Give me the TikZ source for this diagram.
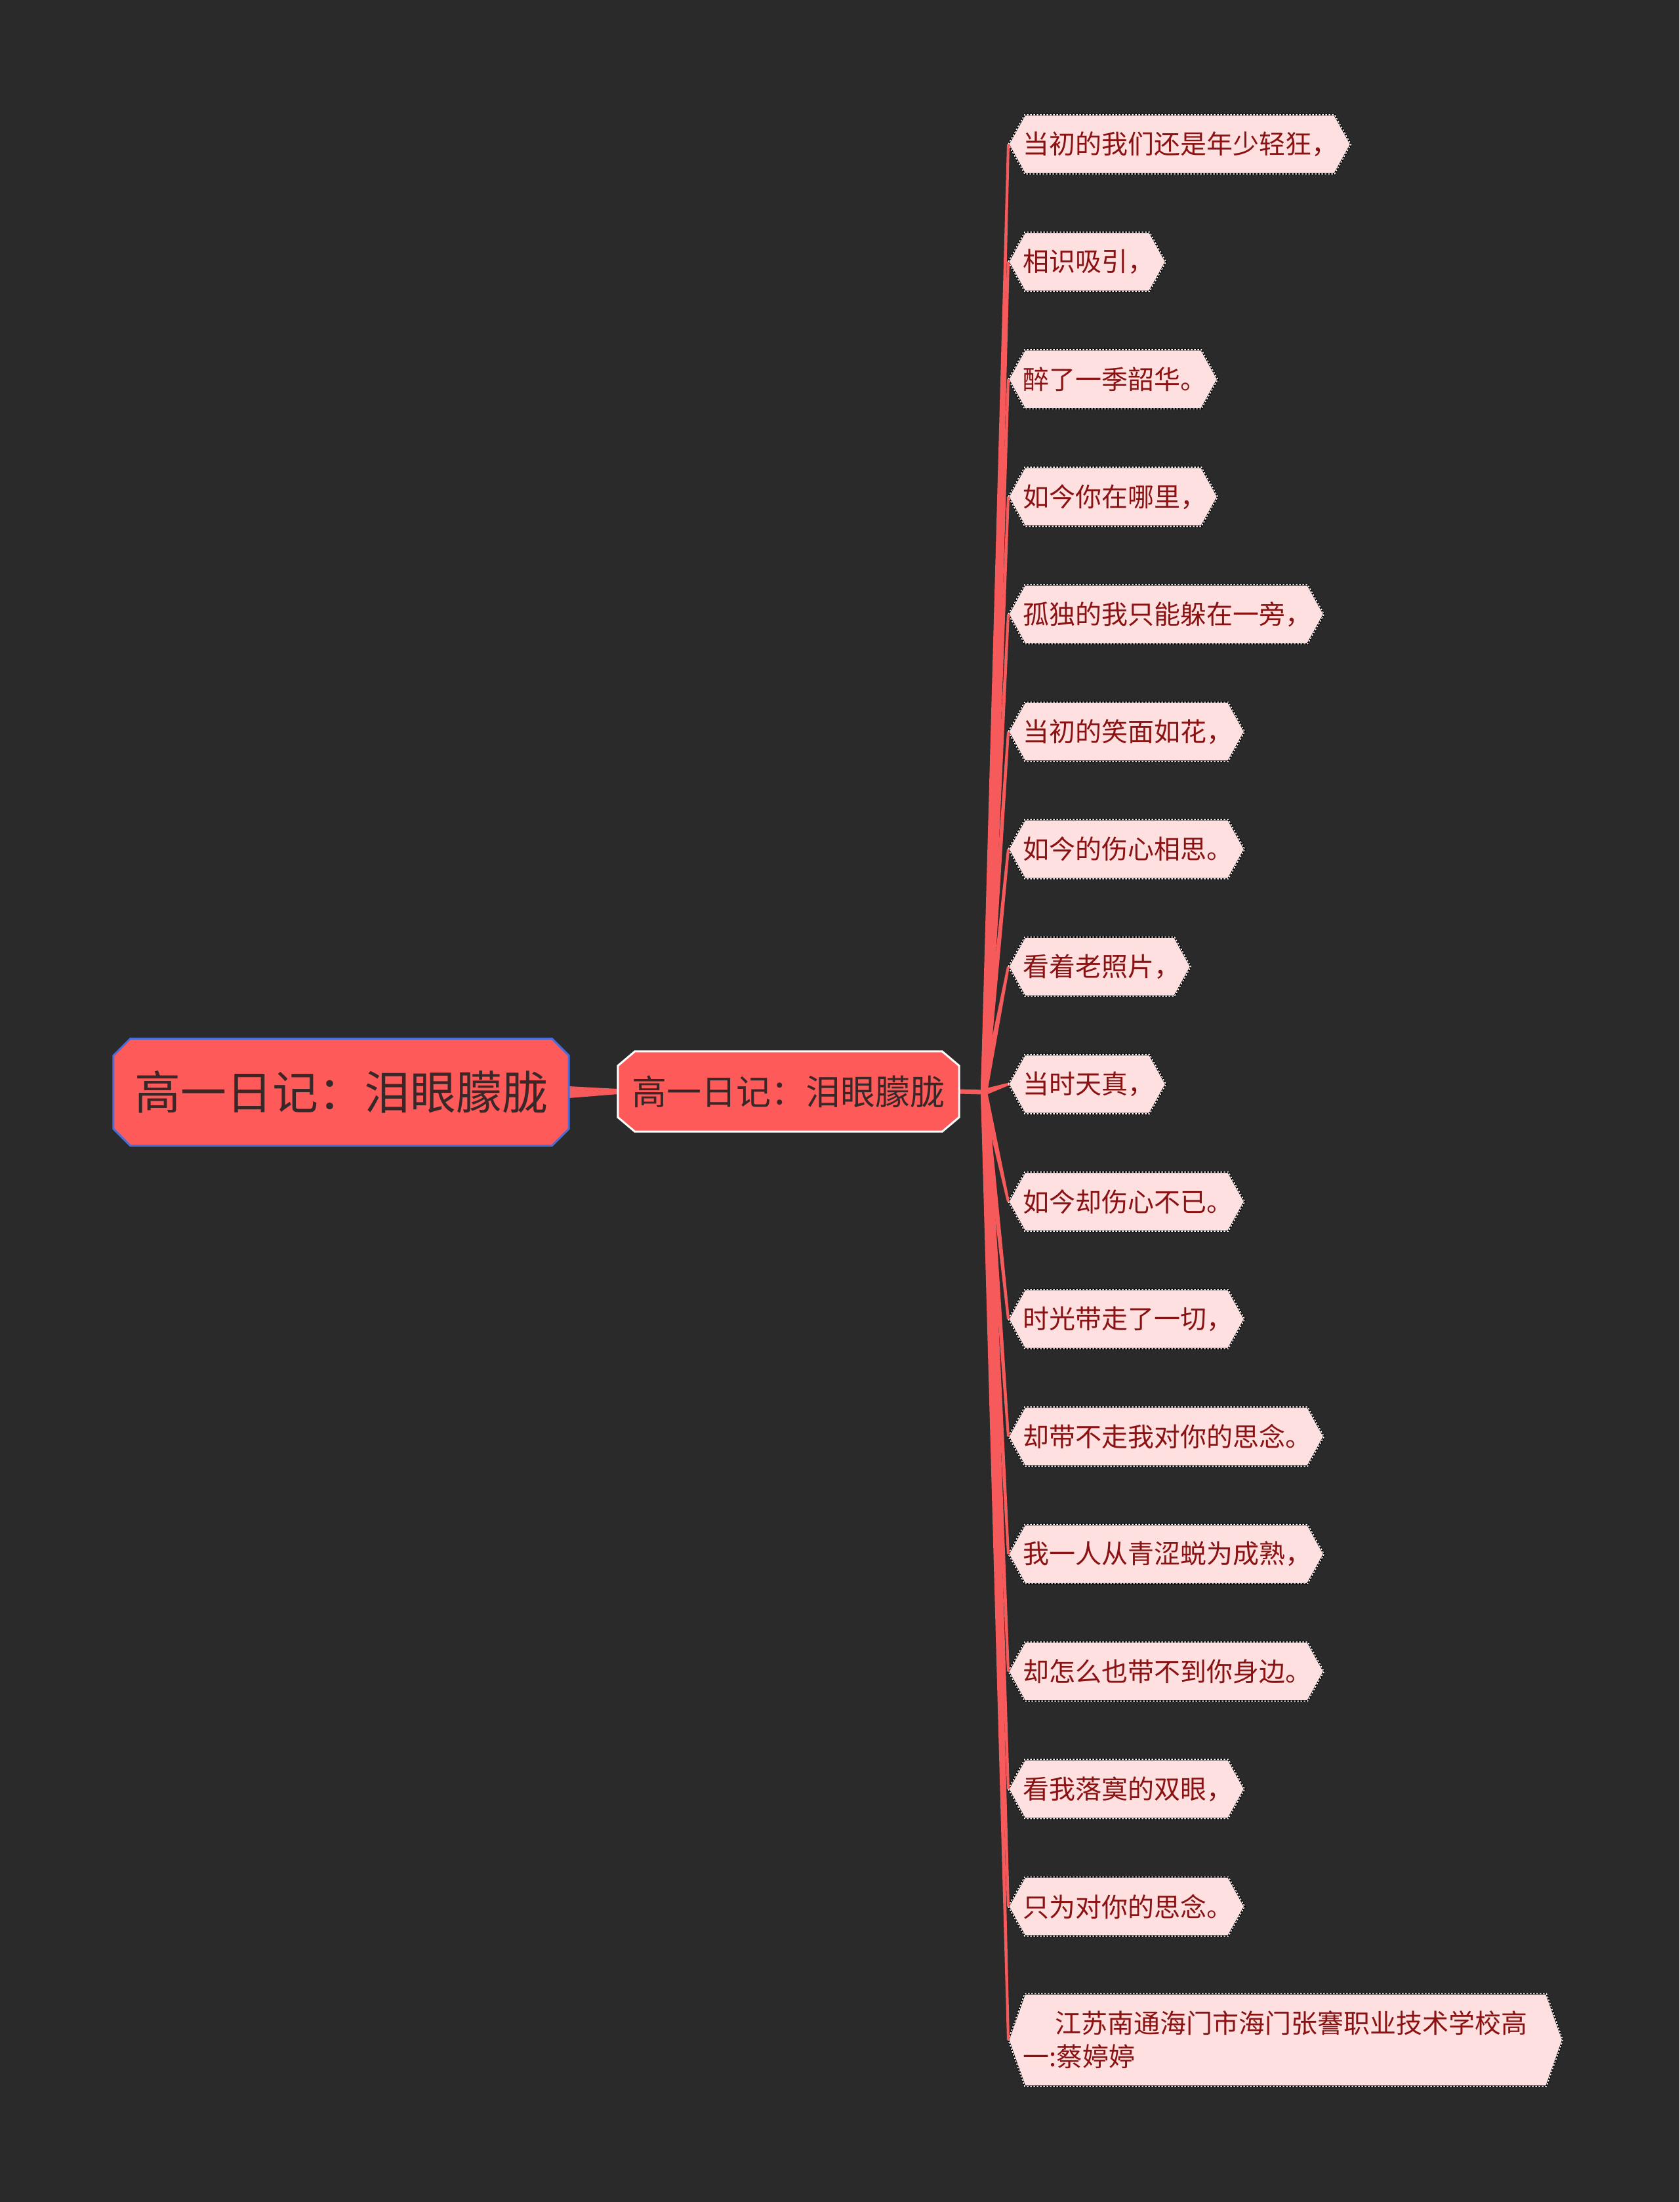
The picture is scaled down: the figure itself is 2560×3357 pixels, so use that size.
\documentclass[tikz,border=0pt]{standalone}
\usepackage{fontspec}
\setmainfont{Noto Sans CJK SC}
\usetikzlibrary{calc}
\pgfdeclarelayer{back}
\pgfdeclarelayer{bg}
\pgfsetlayers{back,bg,main}
\definecolor{bgc}{HTML}{2A2A2A}
\definecolor{redfill}{HTML}{FF5A5A}
\definecolor{linkc}{HTML}{F65A5A}
\definecolor{leaffill}{HTML}{FFE0E0}
\definecolor{leaftext}{HTML}{8A1212}
\definecolor{darktext}{HTML}{3A2828}
\definecolor{rootborder}{HTML}{4A6ED8}
\begin{document}
\begin{tikzpicture}[x=1pt,y=-1pt,
  rootnode/.style={rectangle, minimum width=694pt, minimum height=163pt,
    inner sep=0pt, text=darktext, font=\fontsize{70}{84}\selectfont},
  midnode/.style={rectangle, minimum width=520pt, minimum height=122pt,
    inner sep=0pt, text=darktext, font=\fontsize{53}{64}\selectfont},
  octagon/.style args={#1/#2/#3}{insert path={([xshift=#2]#1.north west) -- ([xshift=-#2]#1.north east)
    -- ([yshift=-#3]#1.north east) -- ([yshift=#3]#1.south east) -- ([xshift=-#2]#1.south east)
    -- ([xshift=#2]#1.south west) -- ([yshift=#3]#1.south west) -- ([yshift=-#3]#1.north west) -- cycle}},
  leaf/.style={rectangle, anchor=west, minimum height=90pt, inner xsep=22pt, inner ysep=0pt,
    align=left, text=leaftext, font=\fontsize{40}{51}\selectfont},
  leafhex/.style={insert path={(#1.west) -- ([xshift=25pt]#1.north west) -- ([xshift=-25pt]#1.north east)
    -- (#1.east) -- ([xshift=-25pt]#1.south east) -- ([xshift=25pt]#1.south west) -- cycle}},
  leafbase/.style={fill=leaffill, draw=black, line width=2.6pt},
  leafdots/.style={draw=white, line width=1.6pt, dash pattern=on 2.5pt off 2.5pt},
]
\begin{pgfonlayer}{back}
  \fill[bgc] (0,0) rectangle (2560,3357);
\end{pgfonlayer}
\useasboundingbox (0,0) rectangle (2560,3357);

\node[rootnode] (r) at (520,1665) {高一日记：泪眼朦胧};
\node[midnode] (m) at (1202,1664) {高一日记：泪眼朦胧};
\coordinate (hub) at (1500,1665);

\begin{pgfonlayer}{bg}
  \fill[linkc] ($(r.east)!9pt!90:(m.west)$) -- ($(m.west)!4pt!-90:(r.east)$)
     -- ($(m.west)!4pt!90:(r.east)$) -- ($(r.east)!9pt!-90:(m.west)$) -- cycle;
  \draw[linkc, line width=7pt] (m.east) -- (hub);
  \path[fill=redfill, draw=rootborder, line width=3pt, octagon=r/26pt/26pt];
  \path[fill=redfill, draw=white, line width=3pt, octagon=m/26pt/22pt];
\end{pgfonlayer}

\foreach \i/\w/\t in {
  1/522/当初的我们还是年少轻狂，,
  2/240/相识吸引，,
  3/319/醉了一季韶华。,
  4/319/如今你在哪里，,
  5/481/孤独的我只能躲在一旁，,
  6/360/当初的笑面如花，,
  7/360/如今的伤心相思。,
  8/278/看着老照片，,
  9/240/当时天真，,
  10/360/如今却伤心不已。,
  11/360/时光带走了一切，,
  12/481/却带不走我对你的思念。,
  13/481/我一人从青涩蜕为成熟，,
  14/481/却怎么也带不到你身边。,
  15/360/看我落寞的双眼，,
  16/360/只为对你的思念。}{
  \pgfmathsetmacro\y{220+179.1*(\i-1)}
  \pgfmathsetmacro\tw{\w-44}
  \node[leaf, minimum width=\w pt, text width=\tw pt] (l\i) at (1537,\y) {\t};
  \begin{pgfonlayer}{bg}
    \path[leafbase, leafhex=l\i];
    \path[leafdots, leafhex=l\i];
    \fill[linkc] ($(hub)!5pt!90:(l\i.west)$) -- ($(l\i.west)!2pt!-90:(hub)$)
      -- ($(l\i.west)!2pt!90:(hub)$) -- ($(hub)!5pt!-90:(l\i.west)$) -- cycle;
  \end{pgfonlayer}
}

\node[leaf, minimum width=845pt, minimum height=141pt, text width=801pt] (l17) at (1537,3110)
  {\hspace*{49pt}江苏南通海门市海门张謇职业技术学校高\\一:蔡婷婷};
\begin{pgfonlayer}{bg}
  \path[leafbase, leafhex=l17];
  \path[leafdots, leafhex=l17];
  \fill[linkc] ($(hub)!5pt!90:(l17.west)$) -- ($(l17.west)!2pt!-90:(hub)$)
    -- ($(l17.west)!2pt!90:(hub)$) -- ($(hub)!5pt!-90:(l17.west)$) -- cycle;
\end{pgfonlayer}
\end{tikzpicture}
\end{document}
